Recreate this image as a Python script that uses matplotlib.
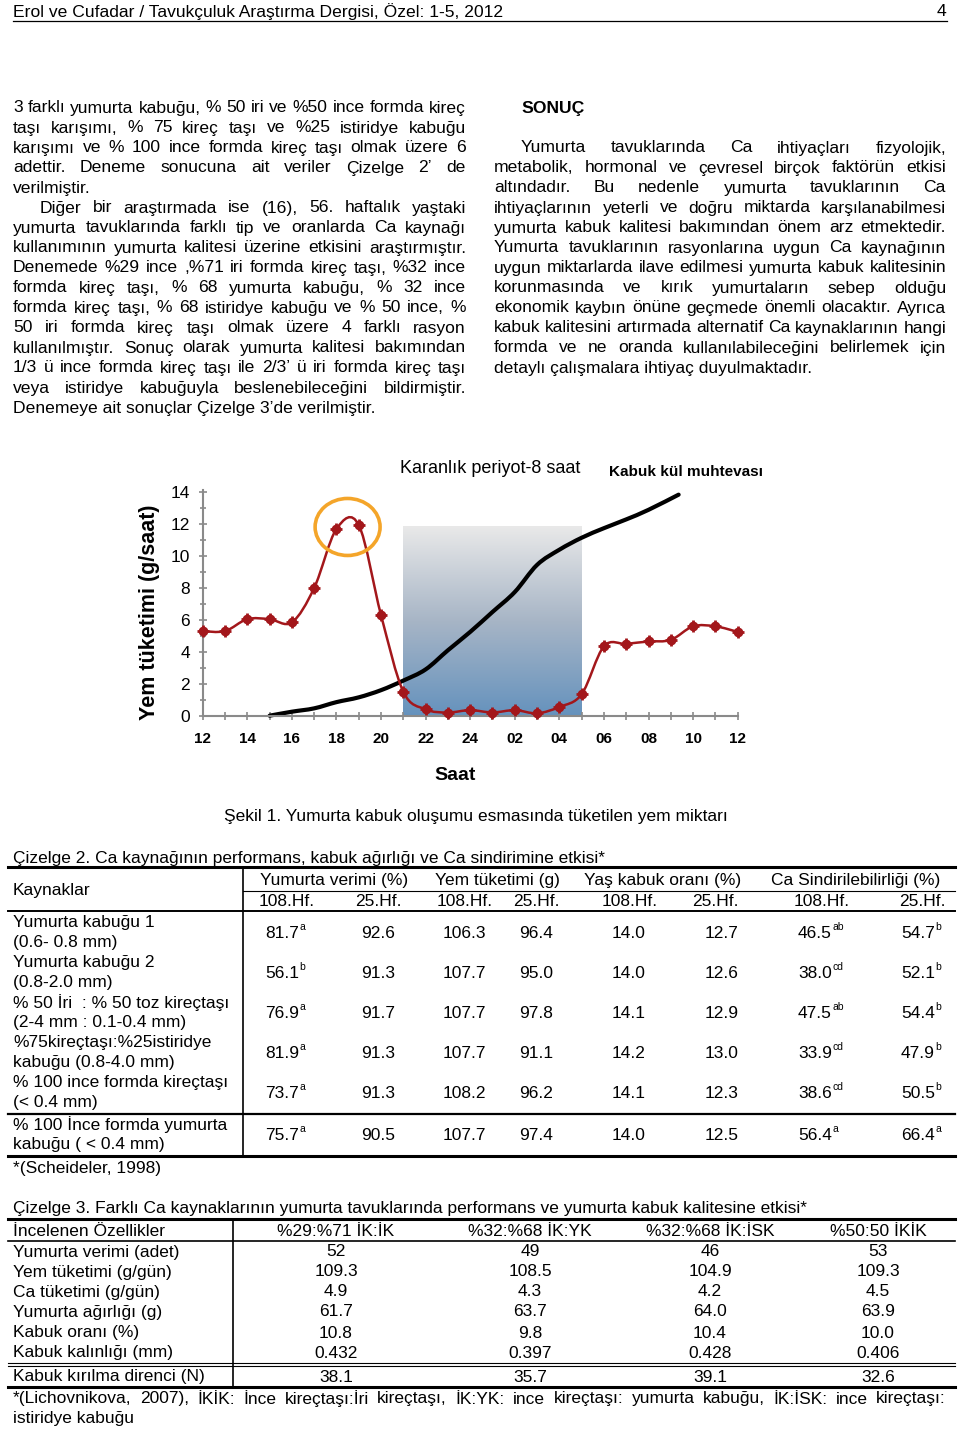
import matplotlib
matplotlib.use('Agg')
import matplotlib.pyplot as plt
import numpy as np
from matplotlib.path import Path
from matplotlib.patches import PathPatch, Ellipse
from matplotlib.lines import Line2D
from matplotlib.colors import LinearSegmentedColormap

plt.rcParams['font.family'] = ['Liberation Sans', 'DejaVu Sans']

# ---------------- chart data ----------------
# hours counted from 12:00 (0 = 12, 24 = 12 next day)
feed_hours = list(range(0, 25))
feed_values = [5.3, 5.3, 6.05, 6.05, 5.85, 8.0, 11.7, 11.95, 6.3, 1.5, 0.4, 0.2,
               0.35, 0.2, 0.35, 0.15, 0.55, 1.35, 4.35, 4.5, 4.65, 4.75, 5.6, 5.6, 5.25]
ash_hours = [3, 4, 5, 6, 7, 8, 9, 10, 11, 12, 13, 14, 15, 16, 17, 18, 19, 20, 21.35]
ash_values = [0.0, 0.25, 0.46, 0.85, 1.15, 1.6, 2.2, 2.9, 4.1, 5.25, 6.5, 7.75,
              9.45, 10.4, 11.15, 11.75, 12.3, 12.9, 13.85]
x_tick_labels = ['12', '14', '16', '18', '20', '22', '24', '02', '04', '06', '08', '10', '12']
dark_start, dark_end, dark_top = 9, 17, 11.9
peak_hours = [6, 7]

# ---------------- table 2 data ----------------
t2_groups = ['Yumurta verimi (%)', 'Yem tüketimi (g)', 'Yaş kabuk oranı (%)', 'Ca Sindirilebilirliği (%)']
t2_sub = ['108.Hf.', '25.Hf.'] * 4
t2_rows = [('Yumurta kabuğu 1', '(0.6- 0.8 mm)'),
           ('Yumurta kabuğu 2', '(0.8-2.0 mm)'),
           ('% 50 İri  : % 50 toz kireçtaşı', '(2-4 mm : 0.1-0.4 mm)'),
           ('%75kireçtaşı:%25istiridye', 'kabuğu (0.8-4.0 mm)'),
           ('% 100 ince formda kireçtaşı', '(< 0.4 mm)'),
           ('% 100 İnce formda yumurta', 'kabuğu ( < 0.4 mm)')]
yv108 = ['81.7', '56.1', '76.9', '81.9', '73.7', '75.7']
yv108_sup = ['a', 'b', 'a', 'a', 'a', 'a']
yv25 = ['92.6', '91.3', '91.7', '91.3', '91.3', '90.5']
yt108 = ['106.3', '107.7', '107.7', '107.7', '108.2', '107.7']
yt25 = ['96.4', '95.0', '97.8', '91.1', '96.2', '97.4']
yk108 = ['14.0', '14.0', '14.1', '14.2', '14.1', '14.0']
yk25 = ['12.7', '12.6', '12.9', '13.0', '12.3', '12.5']
ca108 = ['46.5', '38.0', '47.5', '33.9', '38.6', '56.4']
ca108_sup = ['ab', 'cd', 'ab', 'cd', 'cd', 'a']
ca25 = ['54.7', '52.1', '54.4', '47.9', '50.5', '66.4']
ca25_sup = ['b', 'b', 'b', 'b', 'b', 'a']

# ---------------- table 3 data ----------------
t3_cols = ['%29:%71 İK:İK', '%32:%68 İK:YK', '%32:%68 İK:İSK', '%50:50 İKİK']
t3_rows = ['Yumurta verimi (adet)', 'Yem tüketimi (g/gün)', 'Ca tüketimi (g/gün)',
           'Yumurta ağırlığı (g)', 'Kabuk oranı (%)', 'Kabuk kalınlığı (mm)',
           'Kabuk kırılma direnci (N)']
t3_vals = [['52', '49', '46', '53'],
           ['109.3', '108.5', '104.9', '109.3'],
           ['4.9', '4.3', '4.2', '4.5'],
           ['61.7', '63.7', '64.0', '63.9'],
           ['10.8', '9.8', '10.4', '10.0'],
           ['0.432', '0.397', '0.428', '0.406'],
           ['38.1', '35.7', '39.1', '32.6']]

# ---------------- body text ----------------
left_lines = [
    ("3 farklı yumurta kabuğu, % 50 iri ve %50 ince formda kireç", True, 13),
    ("taşı karışımı, % 75 kireç taşı ve %25 istiridye kabuğu", True, 13),
    ("karışımı ve % 100 ince formda kireç taşı olmak üzere 6", True, 13),
    ("adettir. Deneme sonucuna ait veriler Çizelge 2’ de", True, 13),
    ("verilmiştir.", False, 13),
    ("Diğer bir araştırmada ise (16), 56. haftalık yaştaki", True, 40),
    ("yumurta tavuklarında farklı tip ve oranlarda Ca kaynağı", True, 13),
    ("kullanımının yumurta kalitesi üzerine etkisini araştırmıştır.", True, 13),
    ("Denemede %29 ince ,%71 iri formda kireç taşı, %32 ince", True, 13),
    ("formda kireç taşı, % 68 yumurta kabuğu, % 32 ince", True, 13),
    ("formda kireç taşı, % 68 istiridye kabuğu ve % 50 ince, %", True, 13),
    ("50 iri formda kireç taşı olmak üzere 4 farklı rasyon", True, 13),
    ("kullanılmıştır. Sonuç olarak yumurta kalitesi bakımından", True, 13),
    ("1/3 ü ince formda kireç taşı ile 2/3’ ü iri formda kireç taşı", True, 13),
    ("veya istiridye kabuğuyla beslenebileceğini bildirmiştir.", True, 13),
    ("Denemeye ait sonuçlar Çizelge 3’de verilmiştir.", False, 13),
]
right_lines = [
    ("Yumurta tavuklarında Ca ihtiyaçları fizyolojik,", True, 521),
    ("metabolik, hormonal ve çevresel birçok faktörün etkisi", True, 494),
    ("altındadır. Bu nedenle yumurta tavuklarının Ca", True, 494),
    ("ihtiyaçlarının yeterli ve doğru miktarda karşılanabilmesi", True, 494),
    ("yumurta kabuk kalitesi bakımından önem arz etmektedir.", True, 494),
    ("Yumurta tavuklarının rasyonlarına uygun Ca kaynağının", True, 494),
    ("uygun miktarlarda ilave edilmesi yumurta kabuk kalitesinin", True, 494),
    ("korunmasında ve kırık yumurtaların sebep olduğu", True, 494),
    ("ekonomik kaybın önüne geçmede önemli olacaktır. Ayrıca", True, 494),
    ("kabuk kalitesini artırmada alternatif Ca kaynaklarının hangi", True, 494),
    ("formda ve ne oranda kullanılabileceğini belirlemek için", True, 494),
    ("detaylı çalışmalara ihtiyaç duyulmaktadır.", False, 494),
]

W, H = 960, 1429
BODY = 12.6
TAB = 12.5

fig = plt.figure(figsize=(W / 100, H / 100), dpi=100)
fig.patch.set_facecolor('white')
renderer = fig.canvas.get_renderer()


def fx(x):
    return x / W


def fy(y):
    return 1 - y / H


def put(x, y, s, size=BODY, ha='left', va='center', weight='normal', **kw):
    return fig.text(fx(x), fy(y), s, fontsize=size, ha=ha, va=va, fontweight=weight, **kw)


def width_of(t):
    return t.get_window_extent(renderer).width


def justify(s, x0, x1, y, size=BODY):
    words = s.split()
    texts = [put(0, y, w, size) for w in words]
    ws = [width_of(t) for t in texts]
    gap = (x1 - x0 - sum(ws)) / max(len(words) - 1, 1)
    x = x0
    for t, w in zip(texts, ws):
        t.set_x(fx(x))
        x += w + gap


def hline(y, x0, x1, lw):
    fig.add_artist(Line2D([fx(x0), fx(x1)], [fy(y), fy(y)], lw=lw, color='black',
                          transform=fig.transFigure))


def vline(x, y0, y1, lw):
    fig.add_artist(Line2D([fx(x), fx(x)], [fy(y0), fy(y1)], lw=lw, color='black',
                          transform=fig.transFigure))


# ---------------- header ----------------
put(13, 12, "Erol ve Cufadar / Tavukçuluk Araştırma Dergisi, Özel: 1-5, 2012", size=BODY)
put(946, 12, "4", size=BODY, ha='right')
hline(21, 13, 947, 0.9)

# ---------------- columns ----------------
for i, (s, just, x0) in enumerate(left_lines):
    y = 108 + 20 * i
    if just:
        justify(s, x0, 466, y)
    else:
        put(x0, y, s)

put(521, 108, "SONUÇ", weight='bold')
for i, (s, just, x0) in enumerate(right_lines):
    y = 148 + 20 * i
    if just:
        justify(s, x0, 946, y)
    else:
        put(x0, y, s)

# ---------------- chart ----------------
px_per_unit = 15.96
ymax = 14.15
ax = fig.add_axes([202.7 / W, 1 - 715.7 / H, 535 / W, ymax * px_per_unit / H])
ax.patch.set_alpha(0)

cmap = LinearSegmentedColormap.from_list('dark', ['#6592bd', '#a7b5c6', '#e9e9e9'])
grad = np.linspace(0, 1, 256).reshape(-1, 1)
ax.imshow(grad, extent=[dark_start, dark_end, 0, dark_top], origin='lower', cmap=cmap,
          aspect='auto', zorder=0)


def smooth_path(x, y):
    x = np.asarray(x, float)
    y = np.asarray(y, float)
    n = len(x)
    verts = [(x[0], y[0])]
    codes = [Path.MOVETO]
    for i in range(n - 1):
        xm, ym = (x[i - 1], y[i - 1]) if i > 0 else (x[i], y[i])
        xp, yp = (x[i + 2], y[i + 2]) if i + 2 < n else (x[i + 1], y[i + 1])
        c1 = (x[i] + (x[i + 1] - xm) / 6, y[i] + (y[i + 1] - ym) / 6)
        c2 = (x[i + 1] - (xp - x[i]) / 6, y[i + 1] - (yp - y[i]) / 6)
        verts += [c1, c2, (x[i + 1], y[i + 1])]
        codes += [Path.CURVE4] * 3
    return Path(verts, codes)


RED = '#a3171b'
ax.add_patch(PathPatch(smooth_path(ash_hours, ash_values), fill=False, ec='black',
                       lw=3.0, zorder=2, clip_on=False, capstyle='round'))
ax.add_patch(PathPatch(smooth_path(feed_hours, feed_values), fill=False, ec=RED,
                       lw=1.8, zorder=3, clip_on=False))
ax.plot(feed_hours, feed_values, ls='none', marker='o', ms=6, color=RED, zorder=4, clip_on=False)
ax.plot(feed_hours, feed_values, ls='none', marker='+', ms=9, mew=2, color=RED, zorder=4,
        clip_on=False)

pk_x = np.mean([feed_hours[i] for i in peak_hours])
pk_y = np.mean([feed_values[i] for i in peak_hours])
ax.add_patch(Ellipse((pk_x, pk_y), 65 / 22.3, 57 / px_per_unit, fill=False, ec='#f4a52a',
                     lw=2.6, zorder=5, clip_on=False))

ax.set_xlim(0, 24)
ax.set_ylim(0, ymax)
for sp in ['top', 'right']:
    ax.spines[sp].set_visible(False)
for sp in ['left', 'bottom']:
    ax.spines[sp].set_color('#8a8a8a')
    ax.spines[sp].set_linewidth(1.5)

ax.set_xticks(range(0, 25, 2))
ax.set_xticklabels(x_tick_labels)
ax.set_xticks(range(1, 25, 2), minor=True)
ax.tick_params(axis='x', which='both', direction='inout', length=6, width=1.2,
               color='#8a8a8a', pad=9, labelsize=11)
for lbl in ax.get_xticklabels():
    lbl.set_fontweight('bold')
ax.set_yticks(range(0, 15, 2))
ax.set_yticks(range(1, 15, 2), minor=True)
ax.tick_params(axis='y', which='major', direction='inout', length=6, width=1.2,
               color='#8a8a8a', pad=6, labelsize=12.5)
ax.tick_params(axis='y', which='minor', direction='inout', length=4, width=1.2,
               color='#8a8a8a')

put(150, 612, "Yem tüketimi (g/saat)", size=15.5, weight='bold', ha='center', rotation=90)
put(490, 468, "Karanlık periyot-8 saat", size=13, ha='center')
put(686, 472, "Kabuk kül muhtevası", size=11, weight='bold', ha='center')
put(455, 776, "Saat", size=14, weight='bold', ha='center')
put(476, 817, "Şekil 1. Yumurta kabuk oluşumu esmasında tüketilen yem miktarı", size=12.5, ha='center')

# ---------------- table 2 ----------------
put(13, 858, "Çizelge 2. Ca kaynağının performans, kabuk ağırlığı ve Ca sindirimine etkisi*", size=TAB)
hline(867, 8, 955, 2.2)
hline(891, 243, 955, 0.8)
hline(911, 8, 955, 1.4)
hline(1114, 8, 955, 1.6)
hline(1156, 8, 955, 2.2)
vline(243, 867, 1156, 1.2)
put(13, 891, "Kaynaklar", size=TAB)
for g, gx in zip(t2_groups, [334, 497, 663, 856]):
    put(gx, 881, g, size=TAB, ha='center')
for sname, sx in zip(t2_sub, [287, 378, 465, 536, 630, 715, 822, 922]):
    put(sx, 901, sname, size=TAB, ha='center')

cols = [yv108, yv25, yt108, yt25, yk108, yk25, ca108, ca25]
sups = [yv108_sup, None, None, None, None, None, ca108_sup, ca25_sup]
col_x = [282, 378, 464, 536, 629, 722, 815, 918]
row_y = [933, 973, 1013, 1053, 1093, 1135]
for r, (l1, l2) in enumerate(t2_rows):
    y = row_y[r]
    put(13, y - 10, l1, size=TAB)
    put(13, y + 10, l2, size=TAB)
    for c in range(8):
        t = put(col_x[c], y, cols[c][r], size=TAB, ha='center')
        if sups[c] is not None:
            w = width_of(t)
            put(col_x[c] + w / 2 + 0.5, y - 6, sups[c][r], size=7.5, ha='left')
put(13, 1168, "*(Scheideler, 1998)", size=TAB)

# ---------------- table 3 ----------------
put(13, 1208, "Çizelge 3. Farklı Ca kaynaklarının yumurta tavuklarında performans ve yumurta kabuk kalitesine etkisi*", size=TAB)
hline(1219, 8, 955, 2.2)
hline(1241, 8, 955, 1.2)
hline(1363, 8, 955, 0.8)
hline(1366, 8, 955, 0.8)
hline(1387, 8, 955, 2.2)
vline(233, 1219, 1387, 1.2)
t3_x = [336, 530, 710, 878]
put(13, 1231, "İncelenen Özellikler", size=TAB)
for cname, cx in zip(t3_cols, t3_x):
    put(cx, 1231, cname, size=TAB, ha='center')
t3_y = [1252, 1272, 1292, 1312, 1333, 1353, 1377]
for r, name in enumerate(t3_rows):
    put(13, t3_y[r], name, size=TAB)
    for c in range(4):
        put(t3_x[c], t3_y[r], t3_vals[r][c], size=TAB, ha='center')
justify("*(Lichovnikova, 2007), İKİK: İnce kireçtaşı:İri kireçtaşı, İK:YK: ince kireçtaşı: yumurta kabuğu, İK:İSK: ince kireçtaşı:",
        13, 946, 1399, size=TAB)
put(13, 1418, "istiridye kabuğu", size=TAB)

fig.savefig('out.png', dpi=100, facecolor='white')
